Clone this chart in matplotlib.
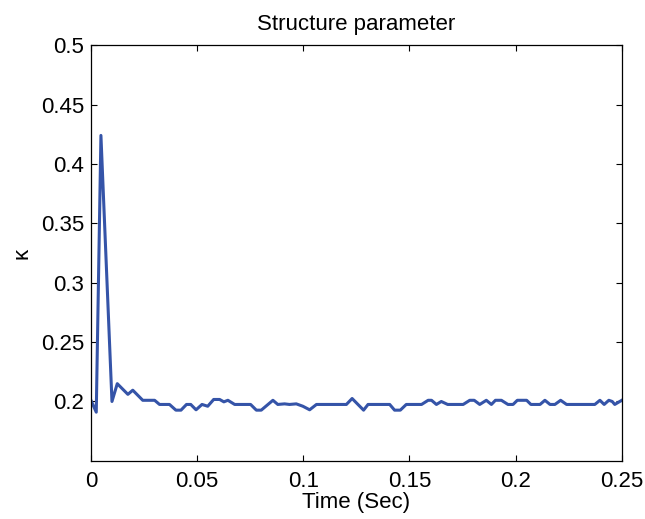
import matplotlib.pyplot as plt

plt.rcParams['font.family'] = ['Liberation Sans', 'DejaVu Sans']

# Structure parameter kappa
time = [0.0, 0.0025, 0.0047, 0.0099, 0.0124, 0.0174, 0.0197, 0.0244, 0.030,
        0.0323, 0.037, 0.040, 0.0424, 0.045, 0.047, 0.0495, 0.0523, 0.055,
        0.0578, 0.0606, 0.0626, 0.0645, 0.0677, 0.0752, 0.0779, 0.0802,
        0.0857, 0.088, 0.0912, 0.0935, 0.0967, 0.0998, 0.103, 0.1062,
        0.1203, 0.123, 0.1284, 0.1305, 0.1407, 0.143, 0.1457, 0.1485,
        0.1557, 0.1588, 0.1604, 0.1627, 0.165, 0.168, 0.1753, 0.1784,
        0.1805, 0.1831, 0.1862, 0.1886, 0.1905, 0.1933, 0.1964, 0.1988,
        0.2008, 0.2029, 0.2052, 0.2072, 0.2115, 0.2138, 0.2162, 0.2185,
        0.2212, 0.224, 0.2373, 0.2397, 0.2417, 0.2439, 0.2455, 0.2467, 0.25]
kappa = [0.201, 0.191, 0.424, 0.200, 0.215, 0.206, 0.2095, 0.201, 0.201,
         0.1975, 0.1975, 0.1927, 0.1927, 0.1975, 0.1975, 0.193, 0.1975, 0.196,
         0.2017, 0.2017, 0.1997, 0.201, 0.1975, 0.1975, 0.1927, 0.1927,
         0.201, 0.1975, 0.198, 0.1975, 0.198, 0.196, 0.193, 0.1975,
         0.1975, 0.2025, 0.1927, 0.1975, 0.1975, 0.1927, 0.1927, 0.1975,
         0.1975, 0.201, 0.201, 0.1975, 0.200, 0.1975, 0.1975, 0.201,
         0.201, 0.1975, 0.201, 0.1975, 0.201, 0.201, 0.1975, 0.1975,
         0.201, 0.201, 0.201, 0.1975, 0.1975, 0.201, 0.1975, 0.1975,
         0.201, 0.1975, 0.1975, 0.201, 0.1975, 0.201, 0.200, 0.1975, 0.201]

xticks = [0, 0.05, 0.1, 0.15, 0.2, 0.25]
xticklabels = ['0', '0.05', '0.1', '0.15', '0.2', '0.25']
yticks = [0.2, 0.25, 0.3, 0.35, 0.4, 0.45, 0.5]
yticklabels = ['0.2', '0.25', '0.3', '0.35', '0.4', '0.45', '0.5']

fig = plt.figure(figsize=(6.45, 5.19), dpi=100)
ax = fig.add_axes([0.141, 0.112, 0.823, 0.801])
ax.plot(time, kappa, color='#3554a8', linewidth=2.2)

ax.set_xlim(0, 0.25)
ax.set_ylim(0.15, 0.5)
ax.set_xticks(xticks)
ax.set_xticklabels(xticklabels)
ax.set_yticks(yticks)
ax.set_yticklabels(yticklabels)
ax.tick_params(direction='in', top=True, right=True, labelsize=16, length=4)
ax.tick_params(axis='x', pad=7)
ax.tick_params(axis='y', pad=5)
for s in ax.spines.values():
    s.set_linewidth(0.9)

ax.set_xlabel('Time (Sec)', fontsize=16, labelpad=0.5)
ax.set_ylabel('κ', fontsize=16, labelpad=6)
ax.set_title('Structure parameter', fontsize=16, pad=11)

fig.savefig('out.png', dpi=100)
